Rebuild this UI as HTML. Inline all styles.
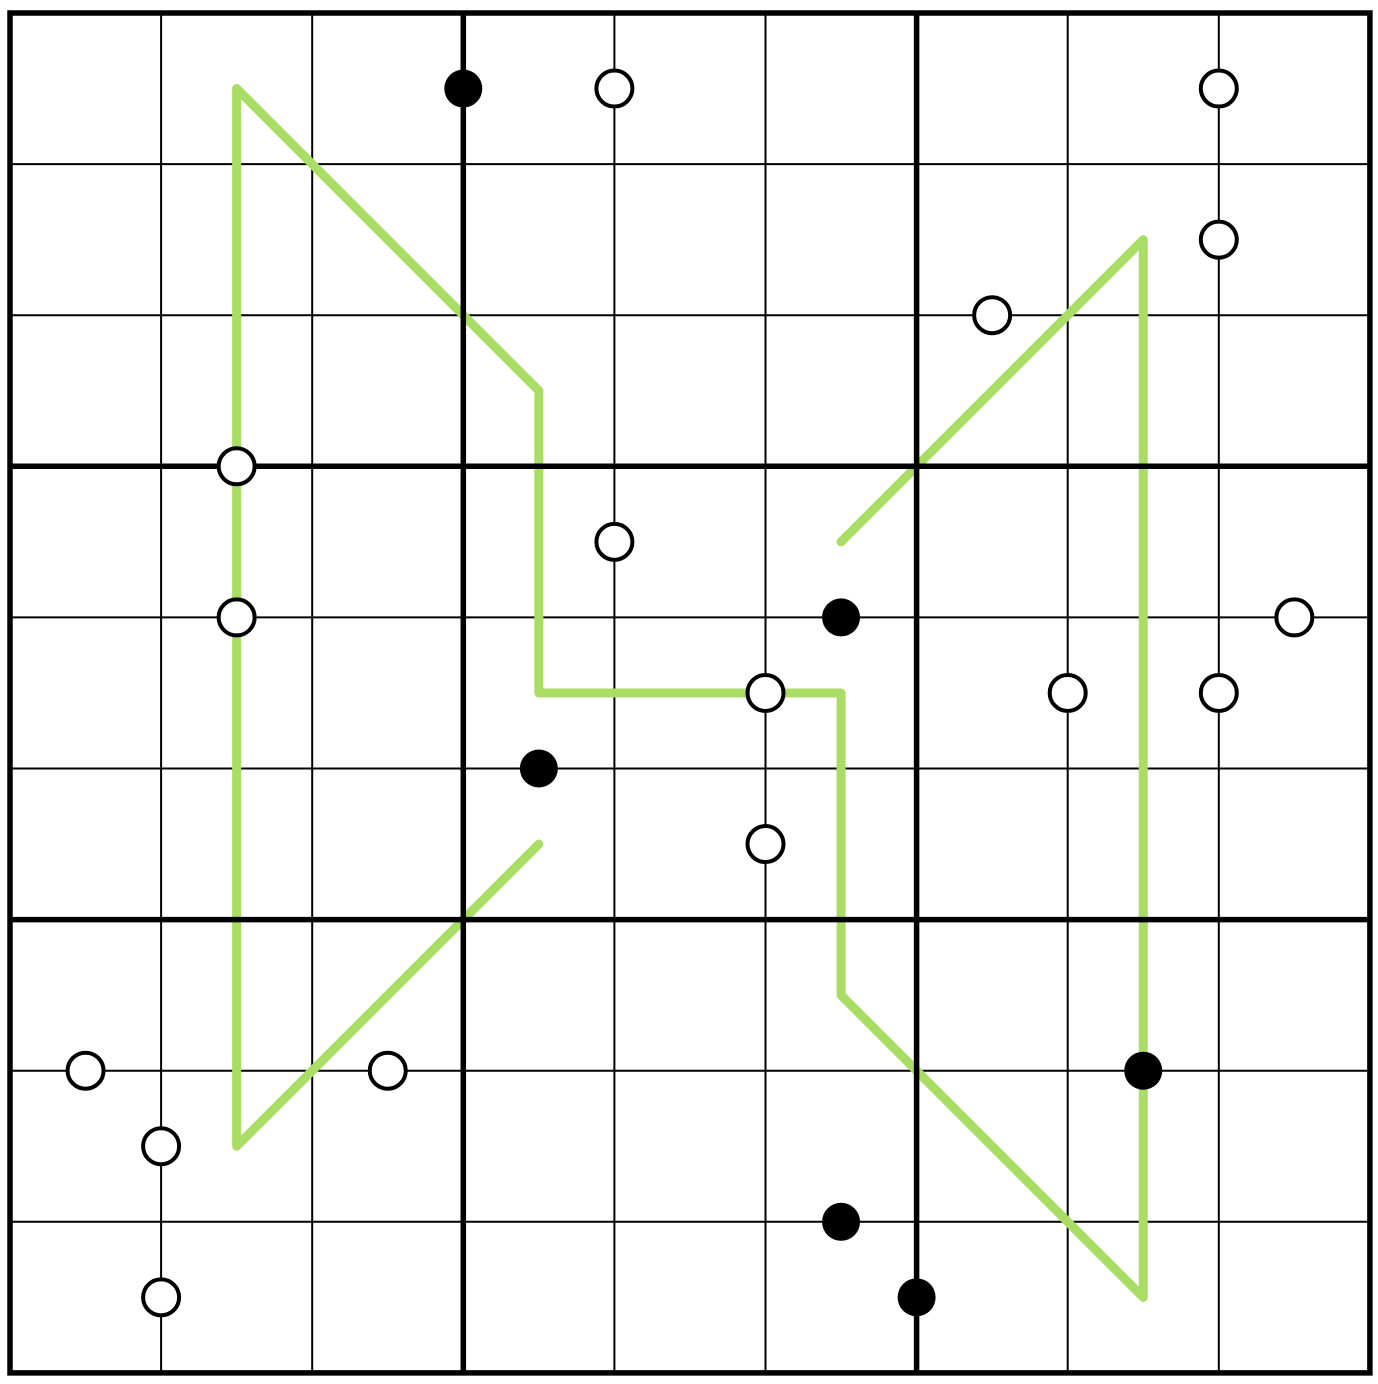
<!DOCTYPE html>
<html><head><meta charset="utf-8"><style>html,body{margin:0;padding:0;background:#fff}svg{display:block}</style></head>
<body>
<svg id="chart" width="1378" height="1384" viewBox="0 0 1378 1384" xmlns="http://www.w3.org/2000/svg"></svg>
<script>
const blackDots = [[3,0.5],[5.5,4],[3.5,5],[7.5,7],[5.5,8],[6,8.5]];
const whiteDots = [[4,0.5],[8,0.5],[8,1.5],[6.5,2],[1.5,3],[4,3.5],[1.5,4],[8.5,4],[5,4.5],[7,4.5],[8,4.5],[5,5.5],[0.5,7],[2.5,7],[1,7.5],[1,8.5]];
const greenPath = [[3.5,5.5],[1.5,7.5],[1.5,0.5],[3.5,2.5],[3.5,4.5],[5.5,4.5],[5.5,6.5],[7.5,8.5],[7.5,1.5],[5.5,3.5]];
const X0=10, Y0=13, C=151.1;
const sx = g => X0 + g*C, sy = g => Y0 + g*C;
const svg = document.getElementById('chart');
const NS='http://www.w3.org/2000/svg';
function mk(tag, attrs){const e=document.createElementNS(NS,tag);for(const k in attrs)e.setAttribute(k,attrs[k]);svg.appendChild(e);return e;}
for(let i=1;i<9;i++){ if(i%3===0) continue;
  let l=mk('line',{x1:sx(i),y1:sy(0),x2:sx(i),y2:sy(9),stroke:'#000','stroke-width':2});
   
  l=mk('line',{x1:sx(0),y1:sy(i),x2:sx(9),y2:sy(i),stroke:'#000','stroke-width':2});
   
}
const pl=mk('polyline',{points:greenPath.map(p=>sx(p[0])+','+sy(p[1])).join(' '),fill:'none',stroke:'#aadd66','stroke-width':9,'stroke-linejoin':'round','stroke-linecap':'round'});
 
for(let i=3;i<9;i+=3){
  let l=mk('line',{x1:sx(i),y1:sy(0),x2:sx(i),y2:sy(9),stroke:'#000','stroke-width':5.5});
   
  l=mk('line',{x1:sx(0),y1:sy(i),x2:sx(9),y2:sy(i),stroke:'#000','stroke-width':5.5});
   
}
const b=mk('rect',{x:sx(0),y:sy(0),width:9*C,height:9*C,fill:'none',stroke:'#000','stroke-width':5.5});
 
whiteDots.forEach(p=>{
  const c=mk('circle',{cx:sx(p[0]),cy:sy(p[1]),r:18,fill:'#fff',stroke:'#000','stroke-width':4});
   
});
blackDots.forEach(p=>{
  const c=mk('circle',{cx:sx(p[0]),cy:sy(p[1]),r:19,fill:'#000'});
   
});
</script>
</body></html>
